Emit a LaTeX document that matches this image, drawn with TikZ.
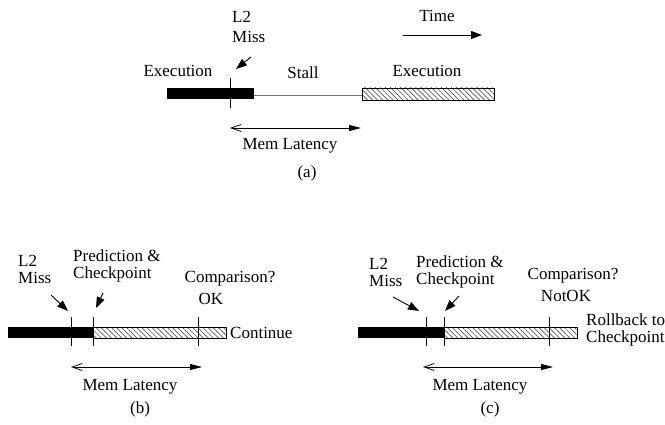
\documentclass[tikz,border=0pt]{standalone}
\usepackage{fontspec}
\setmainfont{Liberation Serif}
\usetikzlibrary{
  arrows.meta,   % for arrow tips
  patterns.meta  % for hatched boxes
}
\tikzstyle{lbl} = [inner sep=0pt, font=\fontsize{17}{17}\selectfont]
\tikzstyle{lbltwo} = [lbl, align=left, anchor=west]
\tikzstyle{runbar} = [fill=black]
\tikzstyle{specbar} = [draw=black, line width=0.7pt, pattern={Lines[angle=-45,distance=3.6pt,line width=0.5pt]}, pattern color=black!80]
\tikzstyle{tick} = [line width=0.8pt]
\tikzstyle{pointer} = [line width=0.9pt, -{Triangle[length=11pt,width=8pt]}]
\tikzstyle{latency} = [line width=0.8pt, {Straight Barb[length=10pt,width=7pt]}-{Triangle[length=12pt,width=6pt]}]

\begin{document}
\begin{tikzpicture}[x=1pt,y=-1pt]
\useasboundingbox (0,0) rectangle (665,425);

% (a) plain stall on an L2 miss
\fill[runbar] (167,88) rectangle (254,99);
\draw[black!55, line width=1pt] (254,96) -- (362,96);
\draw[specbar] (362,88) rectangle (494,100);
\draw[tick] (230,78) -- (230,108);
\node[lbl](execA) at (178,71) {Execution};
\node[lbltwo, font=\fontsize{17}{20}\selectfont](missA) at (232,27) {L2\\Miss};
\node[lbl](stallA) at (303,73) {Stall};
\node[lbl](execB) at (427,71) {Execution};
\node[lbl](timeA) at (437,16) {Time};
\coordinate (timeL) at (403,35);
\coordinate (timeR) at (482,35);
\draw[pointer] (timeL) -- (timeR);
\coordinate (missAfrom) at (251,57);
\coordinate (missAto) at (236,69);
\draw[pointer] (missAfrom) -- (missAto);
\coordinate (latAL) at (230,128);
\coordinate (latAR) at (361,128);
\draw[latency] (latAL) -- (latAR);
\node[lbl](memA) at (290,146) {Mem Latency};
\node[lbl](capA) at (307,173) {(a)};

% (b) prediction turns out right
\fill[runbar] (8,327) rectangle (93,338);
\draw[specbar] (93,327) rectangle (226,338);
\foreach \x in {71,93,198} \draw[tick] (\x,317) -- (\x,346);
\node[lbltwo](missB) at (18,269) {L2\\Miss};
\node[lbltwo](predB) at (73,266) {Prediction \&\\Checkpoint};
\node[lbl](cmpB) at (230,279) {Comparison?};
\node[lbl](okB) at (211,299) {OK};
\node[lbl, anchor=west](contB) at (230,333) {Continue};
\coordinate (missBfrom) at (51,295);
\coordinate (missBto) at (68,311);
\draw[pointer] (missBfrom) -- (missBto);
\coordinate (predBfrom) at (103,293);
\coordinate (predBto) at (96,308);
\draw[pointer] (predBfrom) -- (predBto);
\coordinate (latBL) at (71,367);
\coordinate (latBR) at (202,367);
\draw[latency] (latBL) -- (latBR);
\node[lbl](memB) at (130,387) {Mem Latency};
\node[lbl](capB) at (140,409) {(b)};

% (c) prediction turns out wrong
\fill[runbar] (358,327) rectangle (444,338);
\draw[specbar] (444,327) rectangle (577,338);
\foreach \x in {426,444,549} \draw[tick] (\x,317) -- (\x,346);
\node[lbltwo](missC) at (369,272) {L2\\Miss};
\node[lbltwo](predC) at (416,272) {Prediction \&\\Checkpoint};
\node[lbl](cmpC) at (573,276) {Comparison?};
\node[lbl](nokC) at (566,296) {NotOK};
\node[lbltwo](rollC) at (586,330) {Rollback to\\Checkpoint};
\coordinate (missCfrom) at (393,297);
\coordinate (missCto) at (419,311);
\draw[pointer] (missCfrom) -- (missCto);
\coordinate (predCfrom) at (459,296);
\coordinate (predCto) at (445,311);
\draw[pointer] (predCfrom) -- (predCto);
\coordinate (latCL) at (423,367);
\coordinate (latCR) at (553,367);
\draw[latency] (latCL) -- (latCR);
\node[lbl](memC) at (480,387) {Mem Latency};
\node[lbl](capC) at (490,409) {(c)};
\end{tikzpicture}
\end{document}
